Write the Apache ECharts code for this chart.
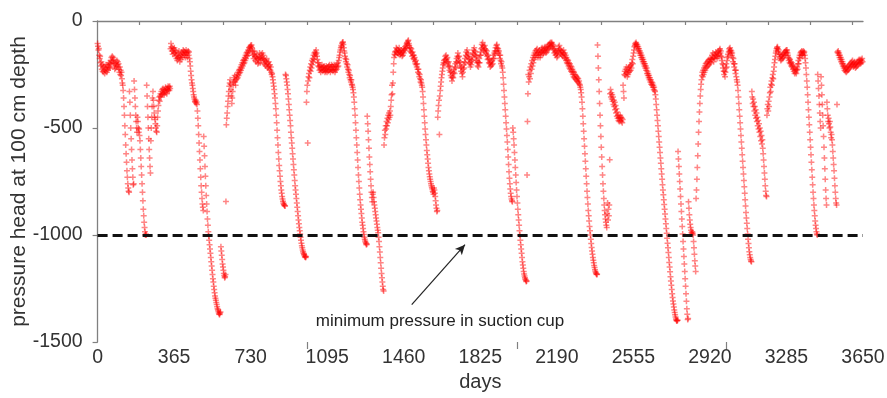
<!DOCTYPE html>
<html>
<head>
<meta charset="utf-8">
<script src="https://cdn.jsdelivr.net/npm/echarts@6/dist/echarts.min.js"></script>
<style>
html,body{margin:0;padding:0;background:#fff;}
#chart{width:887px;height:398px;}
</style>
</head>
<body>
<div id="chart"></div>
<script>
// ---- data: pressure head (cm), one reading every 2 days starting at day 0 ----
const SAMPLE_STEP_DAYS = 2;
// days 0 - 364
const headY1 = [-105,-118,-135,-128,-160,-175,-165,-195,-210,-190,
-225,-205,-235,-215,-240,-210,-230,-245,-220,-235,
-205,-225,-240,-215,-230,-205,-220,-195,-215,-200,
-220,-185,-200,-170,-190,-165,-185,-170,-195,-180,
-210,-225,-200,-220,-195,-210,-185,-205,-190,-215,
-200,-225,-240,-215,-250,-230,-255,-240,-270,-290,
-300,-325,-360,-400,-440,-490,-530,-580,-620,-660,
-700,-730,-760,-780,-795,-800,-330,-380,-440,-500,
-550,-600,-650,-690,-730,-765,-760,-280,-320,-360,
-400,-440,-470,-500,-520,-450,-470,-500,-520,-505,
-535,-560,-600,-640,-680,-720,-760,-800,-840,-880,
-910,-940,-965,-985,-1000,-995,-1000,-300,-350,-400,
-450,-500,-550,-600,-640,-680,-710,-560,-500,-450,
-400,-360,-330,-370,-400,-430,-450,-460,-480,-500,
-515,-520,-490,-450,-420,-395,-370,-355,-375,-350,
-340,-355,-330,-345,-320,-340,-315,-335,-325,-345,
-320,-335,-310,-330,-320,-340,-315,-325,-305,-320,
-310,-325,-305,-315,-130,-105,-120,-140,-125,-155,
-140,-130,-150];
// days 366 - 730
const headY2 = [-125,-150,-135,-165,-145,-175,-160,-185,-170,-150,
-175,-140,-165,-190,-170,-155,-180,-160,-145,-170,
-150,-135,-155,-140,-160,-145,-170,-150,-135,-160,
-145,-170,-150,-140,-160,-145,-175,-190,-210,-235,
-255,-275,-290,-300,-315,-330,-345,-355,-365,-375,
-380,-370,-385,-378,-390,-420,-455,-490,-530,-570,
-610,-650,-690,-730,-770,-800,-830,-855,-870,-885,
-540,-585,-630,-680,-725,-770,-815,-855,-890,-925,
-955,-985,-1005,-1025,-1045,-1065,-1085,-1105,-1125,-1145,
-1165,-1185,-1205,-1220,-1240,-1255,-1270,-1285,-1295,-1305,
-1315,-1325,-1335,-1345,-1350,-1358,-1365,-1370,-1372,-1365,
-1360,-1055,-1075,-1095,-1115,-1135,-1150,-1165,-1180,-1190,
-1200,-1195,-1185,-843,-485,-455,-430,-400,-375,-350,
-330,-305,-290,-275,-295,-320,-350,-385,-360,-330,
-300,-285,-265,-280,-255,-285,-300,-275,-260,-270,
-250,-265,-240,-255,-230,-245,-225,-240,-215,-230,
-205,-220,-195,-210,-185,-200,-180,-195,-170,-185,
-160,-175,-150,-165,-145,-160,-135,-150,-125,-140,
-120,-130,-115];
// days 732 - 1096
const headY3 = [-120,-112,-125,-140,-160,-145,-175,-155,-140,-165,
-185,-165,-190,-170,-155,-180,-200,-175,-195,-170,
-150,-175,-195,-170,-155,-180,-165,-150,-175,-160,
-185,-200,-180,-205,-185,-210,-190,-175,-200,-220,
-195,-215,-190,-210,-225,-205,-230,-215,-240,-250,
-245,-260,-275,-290,-305,-320,-340,-360,-385,-410,
-440,-475,-510,-545,-580,-615,-645,-675,-700,-725,
-750,-770,-790,-805,-820,-832,-842,-850,-856,-860,
-863,-865,-250,-255,-270,-285,-300,-320,-340,-365,
-390,-415,-440,-465,-490,-520,-545,-570,-595,-620,
-645,-670,-695,-720,-745,-770,-790,-810,-830,-850,
-870,-890,-910,-930,-948,-965,-980,-995,-1010,-1025,
-1038,-1050,-1060,-1070,-1078,-1085,-1090,-1095,-1100,-1103,
-1105,-1100,-380,-330,-300,-570,-280,-260,-245,-265,
-230,-215,-235,-200,-220,-185,-205,-175,-190,-160,
-180,-150,-165,-145,-155,-135,-150,-165,-180,-195,
-210,-195,-215,-230,-210,-225,-240,-215,-230,-205,
-220,-235,-215,-230,-210,-225,-240,-220,-235,-210,
-225,-240,-220];
// days 1098 - 1462
const headY4 = [-215,-235,-210,-230,-205,-225,-240,-215,-230,-205,
-225,-210,-235,-215,-230,-205,-225,-240,-215,-230,
-210,-225,-200,-215,-195,-210,-185,-170,-160,-145,
-135,-125,-115,-120,-105,-100,-98,-110,-125,-140,
-150,-165,-175,-190,-180,-200,-215,-205,-225,-240,
-230,-250,-265,-255,-275,-285,-275,-295,-300,-310,
-320,-335,-355,-380,-410,-440,-475,-510,-545,-580,
-615,-650,-685,-720,-750,-780,-810,-835,-860,-880,
-900,-920,-940,-955,-970,-985,-998,-1010,-1020,-1028,
-1035,-1040,-1045,-1042,-445,-480,-515,-555,-595,-635,
-670,-705,-740,-770,-800,-825,-845,-810,-800,-825,
-845,-860,-875,-890,-905,-920,-935,-950,-965,-978,
-990,-1010,-1030,-1055,-1080,-1105,-1130,-1155,-1180,-1200,
-1220,-1240,-1255,-1262,-580,-545,-510,-530,-490,-505,
-470,-490,-455,-475,-440,-460,-430,-450,-420,-440,
-400,-370,-345,-300,-340,-290,-240,-200,-170,-155,
-145,-160,-140,-125,-145,-130,-150,-135,-155,-140,
-125,-145,-160,-140,-155,-135,-150,-165,-145,-160,
-140,-150,-130];
// days 1464 - 1828
const headY5 = [-135,-120,-130,-115,-125,-105,-100,-110,-95,-90,
-105,-115,-125,-140,-125,-145,-130,-150,-165,-145,
-160,-175,-160,-180,-170,-190,-200,-185,-205,-215,
-200,-225,-240,-225,-245,-260,-250,-270,-285,-275,
-290,-300,-310,-330,-355,-385,-415,-445,-475,-505,
-530,-555,-580,-605,-625,-645,-665,-685,-700,-715,
-728,-740,-750,-760,-770,-778,-785,-795,-800,-810,
-780,-790,-805,-820,-840,-860,-875,-890,-885,-450,
-420,-395,-370,-530,-350,-325,-305,-285,-265,-250,
-235,-220,-205,-195,-185,-200,-180,-165,-180,-160,
-175,-190,-170,-195,-210,-190,-215,-230,-210,-240,
-255,-235,-265,-280,-260,-245,-265,-240,-225,-245,
-215,-200,-220,-190,-175,-195,-165,-150,-170,-185,
-165,-195,-210,-190,-220,-235,-215,-245,-260,-240,
-225,-205,-220,-190,-175,-195,-160,-145,-165,-135,
-150,-170,-155,-180,-195,-175,-200,-215,-190,-205,
-180,-165,-185,-150,-135,-155,-125,-140,-160,-145,
-170,-185,-165,-195,-210,-190,-215,-195,-175,-195,
-160,-145,-160];
// days 1830 - 2194
const headY6 = [-130,-110,-125,-100,-115,-135,-120,-140,-115,-130,
-150,-135,-155,-140,-165,-180,-160,-175,-195,-180,
-200,-215,-195,-210,-190,-205,-185,-200,-175,-160,
-175,-150,-140,-155,-125,-140,-115,-110,-125,-140,
-130,-150,-140,-160,-175,-160,-185,-200,-190,-210,
-220,-240,-265,-295,-325,-355,-385,-415,-445,-475,
-505,-535,-565,-600,-635,-670,-705,-735,-760,-785,
-805,-820,-832,-840,-845,-500,-520,-550,-580,-615,
-650,-685,-720,-755,-790,-820,-850,-880,-905,-930,
-955,-980,-1000,-1025,-1045,-1065,-1085,-1105,-1125,-1140,
-1155,-1170,-1182,-1192,-1200,-1207,-1212,-1217,-1215,-720,
-470,-340,-250,-285,-260,-230,-270,-215,-245,-200,
-225,-185,-210,-170,-195,-160,-180,-150,-170,-140,
-160,-135,-155,-130,-150,-170,-145,-160,-135,-150,
-170,-145,-160,-130,-145,-125,-140,-155,-135,-150,
-125,-140,-120,-135,-150,-130,-145,-120,-135,-115,
-130,-110,-125,-105,-120,-100,-115,-105,-100,-120,
-110,-130,-115,-135,-150,-130,-145,-160,-140,-155,
-170,-150,-165];
// days 2196 - 2560
const headY7 = [-140,-120,-135,-115,-130,-150,-135,-155,-140,-160,
-145,-165,-150,-135,-155,-170,-150,-175,-160,-185,
-170,-195,-180,-200,-185,-210,-195,-220,-200,-225,
-210,-235,-215,-240,-225,-250,-235,-260,-240,-265,
-250,-270,-255,-275,-260,-280,-265,-285,-270,-290,
-280,-295,-300,-310,-320,-335,-355,-380,-410,-445,
-480,-515,-550,-585,-620,-655,-690,-725,-760,-795,
-825,-855,-885,-910,-935,-960,-980,-1000,-1020,-1040,
-1058,-1075,-1090,-1105,-1118,-1130,-1142,-1152,-1162,-1170,
-1176,-1181,-1185,-1183,-112,-165,-220,-275,-330,-385,
-440,-490,-540,-590,-635,-680,-720,-760,-795,-830,
-860,-885,-905,-925,-940,-955,-965,-900,-850,-930,
-880,-910,-860,-648,-340,-320,-355,-335,-365,-345,
-375,-355,-390,-370,-400,-380,-415,-395,-430,-410,
-445,-425,-455,-440,-465,-450,-470,-455,-440,-465,
-450,-470,-455,-475,-460,-300,-330,-360,-250,-235,
-255,-225,-245,-215,-240,-260,-230,-250,-220,-240,
-215,-235,-210,-230,-205,-220,-195,-180,-200,-165,
-150,-135,-120];
// days 2562 - 2926
const headY8 = [-115,-105,-110,-100,-108,-120,-112,-130,-120,-140,
-130,-150,-140,-160,-150,-170,-160,-180,-170,-190,
-180,-200,-190,-210,-200,-220,-210,-230,-220,-245,
-235,-255,-245,-265,-255,-275,-265,-285,-275,-295,
-285,-300,-290,-310,-300,-320,-310,-325,-330,-345,
-365,-390,-415,-440,-465,-490,-515,-540,-565,-590,
-615,-640,-665,-690,-715,-740,-765,-790,-812,-835,
-858,-880,-902,-925,-948,-970,-992,-1015,-1038,-1060,
-1082,-1105,-1128,-1150,-1172,-1195,-1215,-1235,-1255,-1275,
-1292,-1308,-1322,-1336,-1350,-1362,-1373,-1383,-1392,-1398,
-1402,-1400,-1398,-610,-645,-680,-715,-750,-785,-820,
-855,-890,-925,-960,-995,-1030,-1065,-1100,-1135,-1170,
-1205,-1240,-1275,-1310,-1345,-1370,-1395,-1390,-845,-875,
-905,-930,-950,-965,-978,-988,-995,-985,-992,-1000,
-1030,-1060,-1090,-1120,-1145,-1170,-830,-790,-740,-685,
-630,-575,-520,-470,-425,-385,-350,-320,-295,-275,
-255,-240,-260,-230,-250,-220,-240,-210,-230,-200,
-220,-195,-215,-190,-210,-185,-205,-180,-200,-190,
-175,-195,-180];
// days 2928 - 3292
const headY9 = [-180,-160,-175,-150,-170,-190,-170,-155,-175,-160,
-145,-165,-150,-175,-160,-145,-165,-140,-155,-135,
-130,-150,-140,-165,-185,-170,-200,-220,-205,-235,
-250,-235,-260,-240,-220,-200,-215,-185,-170,-155,
-165,-145,-130,-140,-125,-135,-150,-140,-160,-150,
-170,-190,-175,-200,-215,-200,-230,-245,-230,-260,
-275,-285,-300,-325,-355,-385,-415,-445,-475,-505,
-535,-565,-595,-625,-655,-685,-715,-745,-775,-805,
-835,-865,-895,-920,-945,-970,-995,-1020,-1040,-1060,
-1078,-1092,-1105,-1115,-1122,-1125,-330,-355,-385,-365,
-400,-380,-420,-400,-440,-415,-455,-430,-470,-450,
-490,-465,-505,-480,-520,-500,-540,-515,-560,-535,
-575,-555,-595,-620,-650,-680,-710,-740,-770,-795,
-815,-820,-440,-410,-390,-420,-375,-400,-355,-335,
-310,-330,-295,-280,-300,-265,-250,-270,-235,-215,
-195,-180,-165,-150,-140,-130,-125,-120,-130,-145,
-135,-155,-170,-155,-175,-185,-165,-180,-160,-175,
-155,-170,-150,-165,-145,-160,-140,-150,-135,-145,
-135,-150,-160];
// days 3294 - 3648
const headY10 = [-170,-185,-175,-195,-180,-200,-190,-210,-195,-215,
-205,-225,-210,-235,-220,-245,-230,-240,-225,-245,
-230,-215,-225,-200,-185,-200,-170,-160,-175,-150,
-145,-160,-140,-155,-145,-160,-140,-150,-145,-160,
-175,-195,-220,-250,-280,-310,-345,-380,-415,-450,
-485,-520,-555,-590,-625,-660,-695,-730,-765,-800,
-830,-860,-885,-910,-935,-955,-970,-985,-995,-1000,
-250,-280,-315,-350,-390,-430,-470,-500,-260,-300,
-345,-390,-440,-490,-540,-590,-640,-690,-740,-790,
-830,-860,-380,-410,-440,-470,-455,-480,-500,-470,
-495,-520,-545,-530,-555,-580,-610,-640,-670,-700,
-735,-770,-800,-830,-850,-860,-390,-145,-150,-140,
-160,-150,-170,-160,-180,-170,-190,-180,-200,-190,
-210,-200,-220,-210,-230,-215,-235,-225,-240,-220,
-235,-215,-230,-210,-225,-205,-220,-200,-215,-195,
-210,-190,-205,-185,-200,-215,-195,-210,-190,-205,
-220,-200,-215,-195,-210,-190,-205,-185,-200,-180,
-195,-185,-200,-180,-195,-185,-175,-190];

const xLabelDays = [0,365,730,1095,1460,1825,2190,2555,2920,3285,3650];
const xTickDays = [200,400,600,800,1000,1200,1400,1600,1800,2000,2200,2400,2600,2800,3000,3200,3400,3600];
const xLongTickDays = [1000,2000,3000];
const minPressure = -1000;
const noteText = 'minimum pressure in suction cup';
const noteAt = [1633, -1404];
const arrowFrom = [1498, -1325];
const arrowTo = [1752, -1045];

// ---- build ----
const headSegments = [headY1,headY2,headY3,headY4,headY5,headY6,headY7,headY8,headY9,headY10];
const points = [];
let n = 0;
headSegments.forEach(seg => seg.forEach(v => { points.push([n * SAMPLE_STEP_DAYS, v]); n++; }));

const FONT = '"Liberation Sans", Arial, Helvetica, sans-serif';
const AXIS_COLOR = '#808080';
const TEXT_COLOR = '#333';
const plusPath = 'path://M2.25,0H3.75V2.25H6V3.75H3.75V6H2.25V3.75H0V2.25H2.25Z';
const plain = v => String(v);

const chart = echarts.init(document.getElementById('chart'), null, {renderer: 'canvas'});
chart.setOption({
  animation: false,
  backgroundColor: '#ffffff',
  textStyle: {fontFamily: FONT},
  grid: {left: 97.6, right: 24, top: 21, bottom: 56, containLabel: false, outerBoundsMode: 'none'},
  xAxis: [{
    type: 'value', min: 0, max: 3650, position: 'bottom',
    name: 'days', nameLocation: 'middle', nameGap: 30, nameMoveOverlap: false,
    nameTextStyle: {fontSize: 20, color: TEXT_COLOR, fontFamily: FONT},
    axisLine: {show: true, lineStyle: {color: AXIS_COLOR, width: 1.3}},
    axisTick: {show: true, customValues: xTickDays, length: 4, lineStyle: {color: AXIS_COLOR, width: 1.2}},
    axisLabel: {show: true, customValues: xLabelDays, formatter: plain, fontSize: 19.5, color: TEXT_COLOR, margin: 6, fontFamily: FONT},
    splitLine: {show: false}
  }, {
    type: 'value', min: 0, max: 3650, position: 'bottom',
    axisLine: {show: false},
    axisTick: {show: true, customValues: xLongTickDays, length: 7, lineStyle: {color: AXIS_COLOR, width: 1.2}},
    axisLabel: {show: false},
    splitLine: {show: false}
  }],
  yAxis: {
    type: 'value', min: -1500, max: 0, interval: 500,
    name: 'pressure head at 100 cm depth', nameLocation: 'middle', nameGap: 68, nameRotate: 90,
    nameMoveOverlap: false,
    nameTextStyle: {fontSize: 21, color: TEXT_COLOR, fontFamily: FONT},
    axisLine: {show: true, lineStyle: {color: AXIS_COLOR, width: 1.3}},
    axisTick: {show: true, length: 5, lineStyle: {color: AXIS_COLOR, width: 1.2}},
    axisLabel: {formatter: plain, fontSize: 19.5, color: TEXT_COLOR, margin: 15, fontFamily: FONT},
    splitLine: {show: false}
  },
  series: [{
    type: 'scatter',
    data: points,
    symbol: plusPath,
    symbolSize: 6,
    itemStyle: {color: 'rgba(255,0,0,0.6)'},
    z: 2,
    silent: true
  }, {
    type: 'line', data: [], z: 5, silent: true,
    markLine: {
      silent: true, symbol: ['none', 'none'], label: {show: false},
      lineStyle: {type: [10, 5], color: '#111', width: 3},
      data: [{yAxis: minPressure}]
    }
  }, {
    type: 'line', data: [], z: 6, silent: true,
    markLine: {
      silent: true, symbol: ['none', 'arrow'], symbolSize: [7, 10], label: {show: false},
      lineStyle: {type: 'solid', color: '#222', width: 1.2},
      data: [[{coord: arrowFrom}, {coord: arrowTo}]]
    },
    markPoint: {
      silent: true,
      data: [{coord: noteAt, symbol: 'rect', symbolSize: 1, itemStyle: {color: 'rgba(0,0,0,0)'},
        label: {show: true, position: 'inside', formatter: noteText, fontSize: 17, color: '#222', fontFamily: FONT}}]
    }
  }]
});
</script>
</body>
</html>
